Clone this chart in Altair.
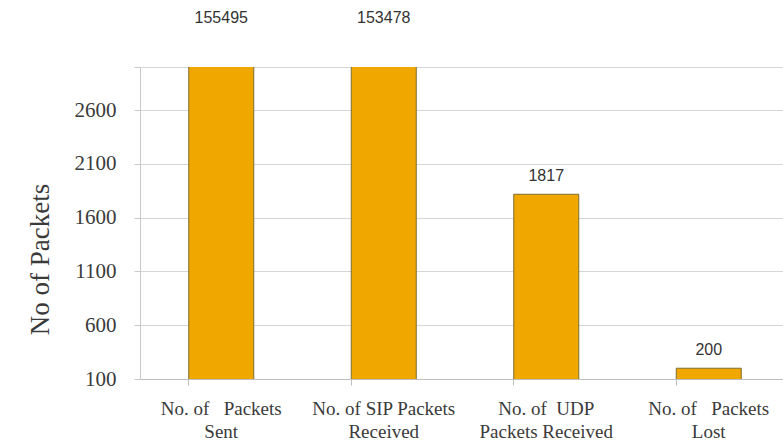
import altair as alt
import pandas as pd

categories = [
    "No. of\u00a0\u00a0 Packets\nSent",
    "No. of SIP Packets\nReceived",
    "No. of\u00a0 UDP\nPackets Received",
    "No. of\u00a0\u00a0 Packets\nLost",
]
values = [155495, 153478, 1817, 200]
y_ticks = [100, 600, 1100, 1600, 2100, 2600, 3000]

df = pd.DataFrame({"cat": categories, "value": values})

x_enc = alt.X(
    "cat:N",
    sort=categories,
    scale=alt.Scale(range=[0, 650], paddingInner=0.6, paddingOuter=0.3),
    axis=alt.Axis(
        title=None,
        labelAngle=0,
        labelExpr="split(datum.label, '\\n')",
        labelFont="Liberation Serif",
        labelFontSize=19,
        labelColor="#3a3a3a",
        labelLineHeight=23,
        labelPadding=14,
        bandPosition=0,
        ticks=True,
        tickSize=6,
        tickColor="#bdbdbd",
        domainColor="#bdbdbd",
        grid=False,
        labelLimit=300,
    ),
)

bars = alt.Chart(df).mark_bar(
    clip=True, color="#F0A800", stroke="#7d6e32", strokeWidth=1
).encode(
    x=x_enc,
    y=alt.Y(
        "value:Q",
        scale=alt.Scale(domain=[100, 3000], nice=False, zero=False),
        axis=alt.Axis(
            values=y_ticks,
            labelExpr="datum.value == 3000 ? '' : datum.label",
            format="d",
            title="No of Packets",
            titleFont="Liberation Serif",
            titleFontSize=27,
            titleFontWeight="normal",
            titleColor="#3a3a3a",
            titleX=-100,
            titleY=192,
            titleAngle=-90,
            titleAlign="center",
            titleBaseline="middle",
            labelFont="Liberation Serif",
            labelFontSize=21,
            labelColor="#3a3a3a",
            labelPadding=18,
            tickSize=6,
            tickColor="#c8c8c8",
            domainColor="#c8c8c8",
            gridColor="#d6d6d6",
        ),
    ),
)

labels = alt.Chart(df).transform_calculate(
    ypos="min(datum.value, 3290)"
).mark_text(
    clip=False,
    font="Liberation Sans",
    fontSize=16,
    color="#333333",
    baseline="middle",
    dy=-18,
).encode(
    x=alt.X("cat:N", sort=categories),
    y=alt.Y("ypos:Q"),
    text=alt.Text("value:Q", format="d"),
)

chart = (
    alt.layer(bars, labels)
    .properties(
        width=643,
        height=312,
        autosize=alt.AutoSizeParams(type="none"),
        padding={"left": 140, "top": 67, "right": 0, "bottom": 64},
        background="white",
    )
    .configure_view(stroke=None)
)

chart.save("out.html", embed_options={"renderer": "svg", "actions": False})
